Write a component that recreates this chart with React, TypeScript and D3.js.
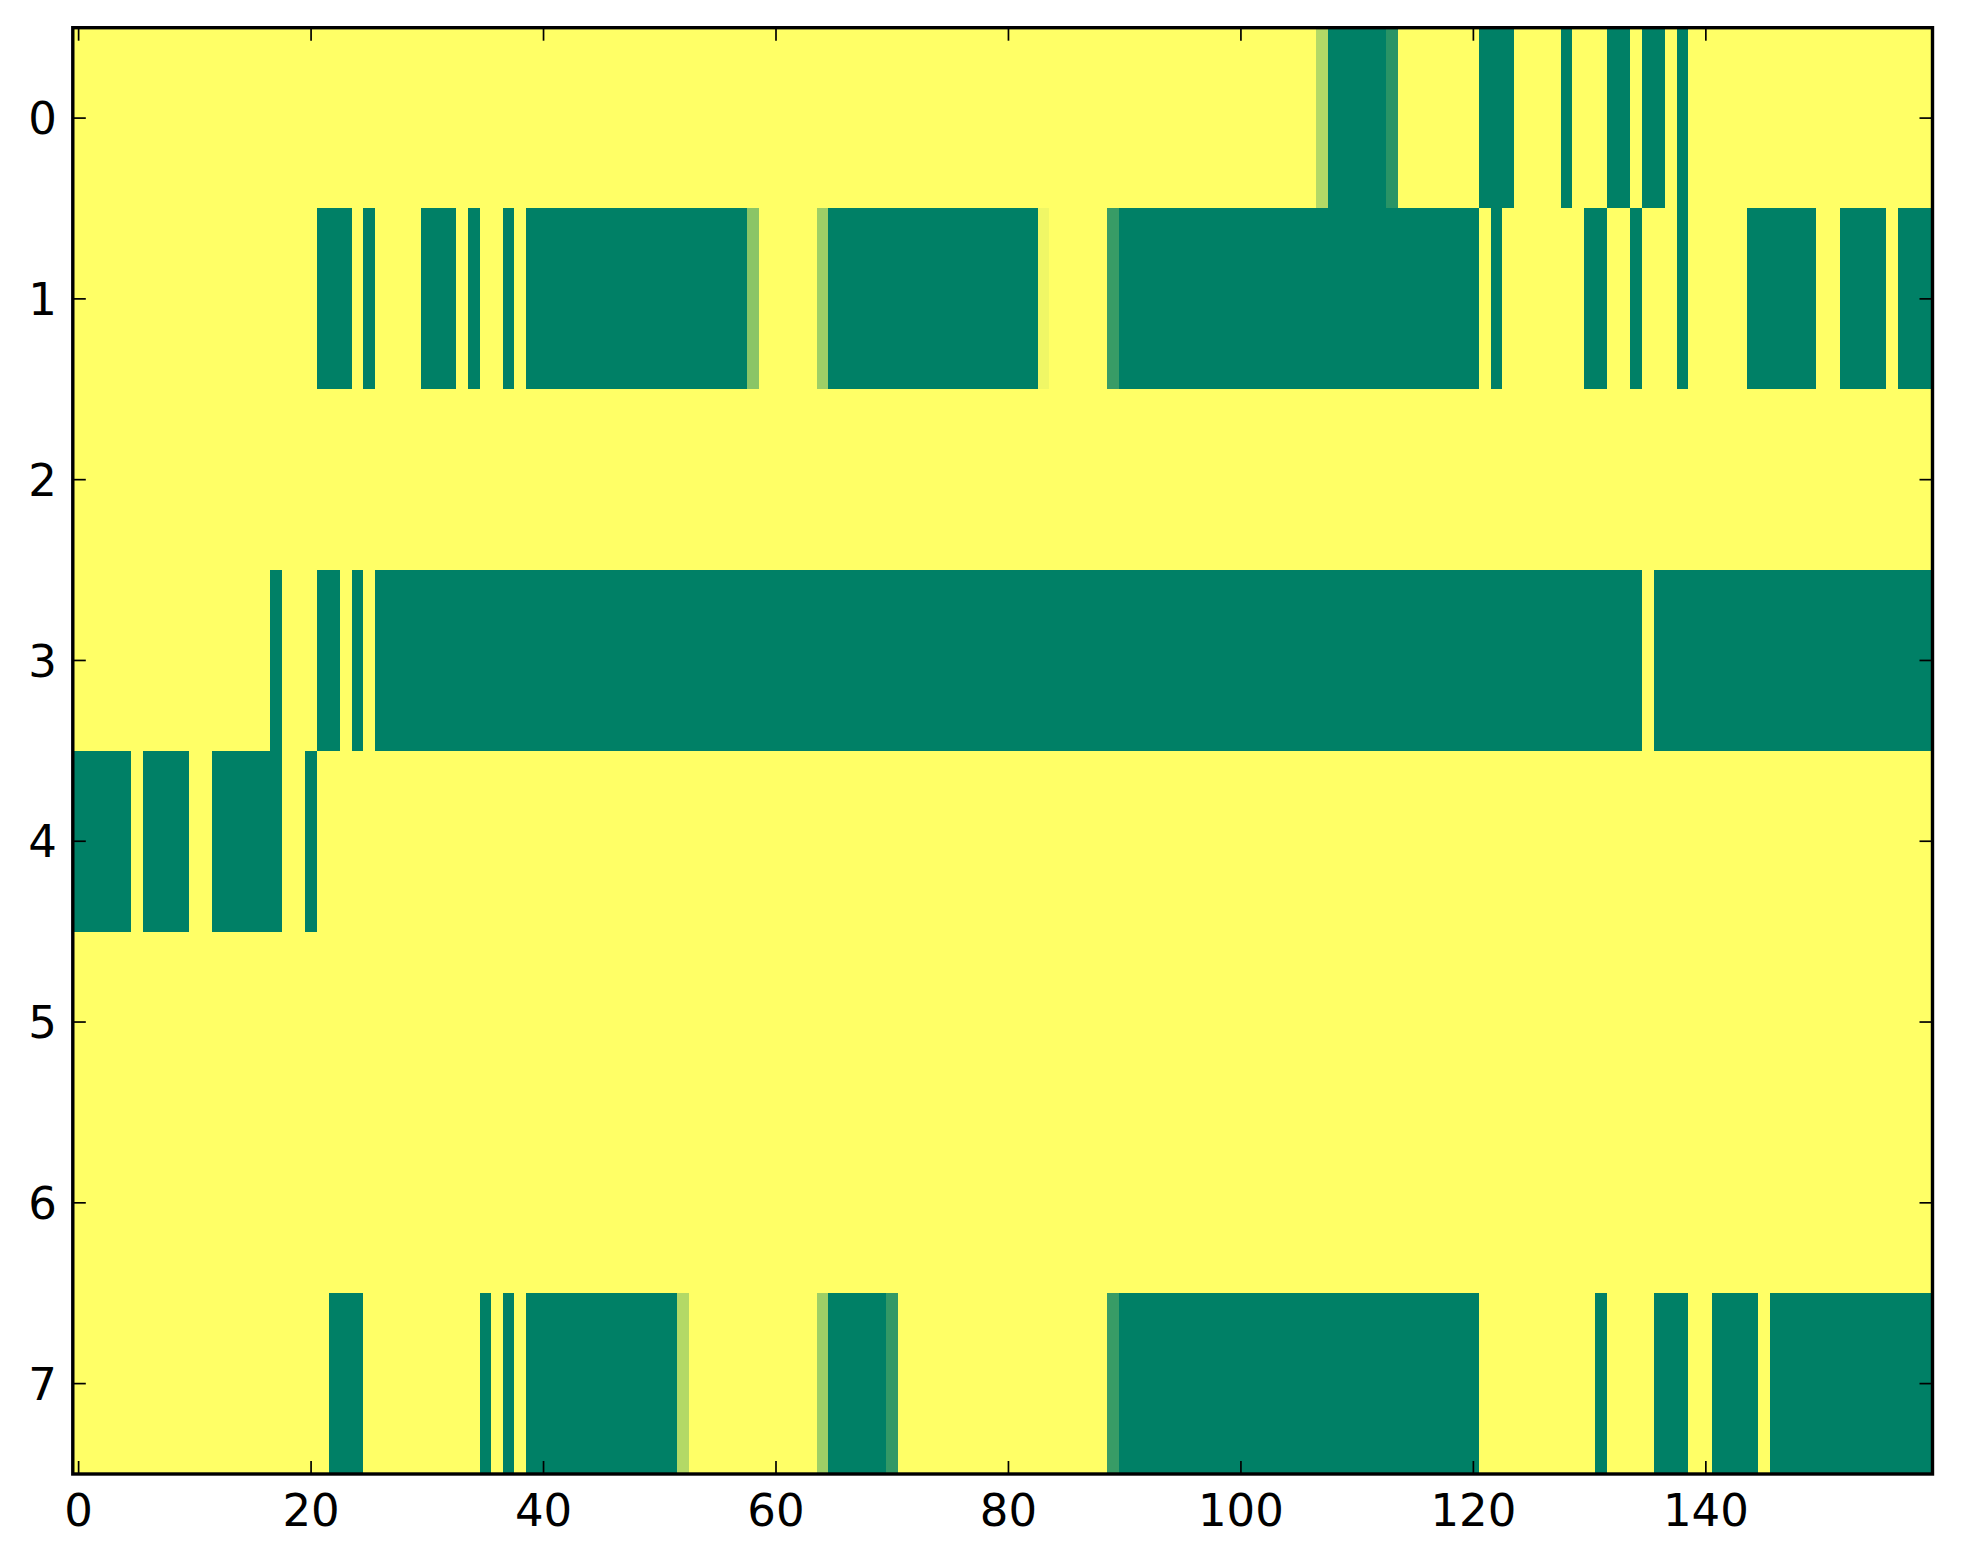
import React from "react";
import * as d3 from "d3";

// Grid: 8 rows x 160 columns, value 1 = yellow (default), 0 = green
const nCols = 160;
const nRows = 8;
const rowLabels = [0, 1, 2, 3, 4, 5, 6, 7];
const xTickValues = [0, 20, 40, 60, 80, 100, 120, 140];

// Non-yellow runs per row: [startCol, endCol, value]
const row0: [number, number, number][] = [
  [107, 107, 0.7], [108, 112, 0], [113, 113, 0.16], [121, 123, 0], [128, 128, 0],
  [132, 133, 0], [135, 136, 0], [138, 138, 0],
];
const row1: [number, number, number][] = [
  [21, 23, 0], [25, 25, 0], [30, 32, 0], [34, 34, 0], [37, 37, 0], [39, 57, 0],
  [58, 58, 0.54], [64, 64, 0.62], [65, 82, 0], [83, 83, 0.94], [89, 89, 0.22],
  [90, 120, 0], [122, 122, 0], [130, 131, 0], [134, 134, 0], [138, 138, 0],
  [144, 149, 0], [152, 155, 0], [157, 159, 0],
];
const row2: [number, number, number][] = [];
const row3: [number, number, number][] = [
  [17, 17, 0], [21, 22, 0], [24, 24, 0], [26, 134, 0], [136, 159, 0],
];
const row4: [number, number, number][] = [
  [0, 4, 0], [6, 9, 0], [12, 17, 0], [20, 20, 0],
];
const row5: [number, number, number][] = [];
const row6: [number, number, number][] = [];
const row7: [number, number, number][] = [
  [22, 24, 0], [35, 35, 0], [37, 37, 0], [39, 51, 0], [52, 52, 0.7], [64, 64, 0.62],
  [65, 69, 0], [70, 70, 0.2], [89, 89, 0.22], [90, 120, 0], [131, 131, 0],
  [136, 138, 0], [141, 144, 0], [146, 159, 0],
];
const rowRuns = [row0, row1, row2, row3, row4, row5, row6, row7];

const W = 1963;
const H = 1564;
const left = 72.8;
const right = 1932.5;
const top = 27.7;
const bottom = 1474;

export default function App() {
  const x = d3.scaleLinear().domain([-0.5, nCols - 0.5]).range([left, right]);
  const y = d3.scaleLinear().domain([-0.5, nRows - 0.5]).range([top, bottom]);
  const color = d3.scaleLinear<string>().domain([0, 1]).range(["#008066", "#ffff66"]).interpolate(d3.interpolateRgb);

  const cells: { r: number; c: number; v: number }[] = [];
  rowRuns.forEach((runs, r) => {
    const vals = new Array(nCols).fill(1);
    runs.forEach(([s, e, v]) => {
      for (let c = s; c <= e; c++) vals[c] = v;
    });
    vals.forEach((v, c) => cells.push({ r, c, v }));
  });

  const tickLen = 13;
  const font = "'DejaVu Sans', sans-serif";
  const fs = 45;

  return (
    <svg width={W} height={H} style={{ position: "absolute", left: 0, top: 0, background: "#fff" }}>
      <g shapeRendering="crispEdges">
        {cells.map((d, i) => (
          <rect
            key={i}
            x={x(d.c - 0.5)}
            y={y(d.r - 0.5)}
            width={x(d.c + 0.5) - x(d.c - 0.5) + 0.6}
            height={y(d.r + 0.5) - y(d.r - 0.5) + 0.6}
            fill={color(d.v)}
          />
        ))}
      </g>
      {/* ticks */}
      <g stroke="#000" strokeWidth={1.7}>
        {xTickValues.map((t) => (
          <g key={"xt" + t}>
            <line x1={x(t)} x2={x(t)} y1={bottom} y2={bottom - tickLen} />
            <line x1={x(t)} x2={x(t)} y1={top} y2={top + tickLen} />
          </g>
        ))}
        {rowLabels.map((t) => (
          <g key={"yt" + t}>
            <line x1={left} x2={left + tickLen} y1={y(t)} y2={y(t)} />
            <line x1={right} x2={right - tickLen} y1={y(t)} y2={y(t)} />
          </g>
        ))}
      </g>
      <rect x={left} y={top} width={right - left} height={bottom - top} fill="none" stroke="#000" strokeWidth={3.4} />
      <g fontFamily={font} fontSize={fs} fill="#000">
        {xTickValues.map((t) => (
          <text key={"xl" + t} x={x(t)} y={bottom + 52} textAnchor="middle">
            {t}
          </text>
        ))}
        {rowLabels.map((t) => (
          <text key={"yl" + t} x={left - 16} y={y(t)} dy="0.36em" textAnchor="end">
            {t}
          </text>
        ))}
      </g>
    </svg>
  );
}
